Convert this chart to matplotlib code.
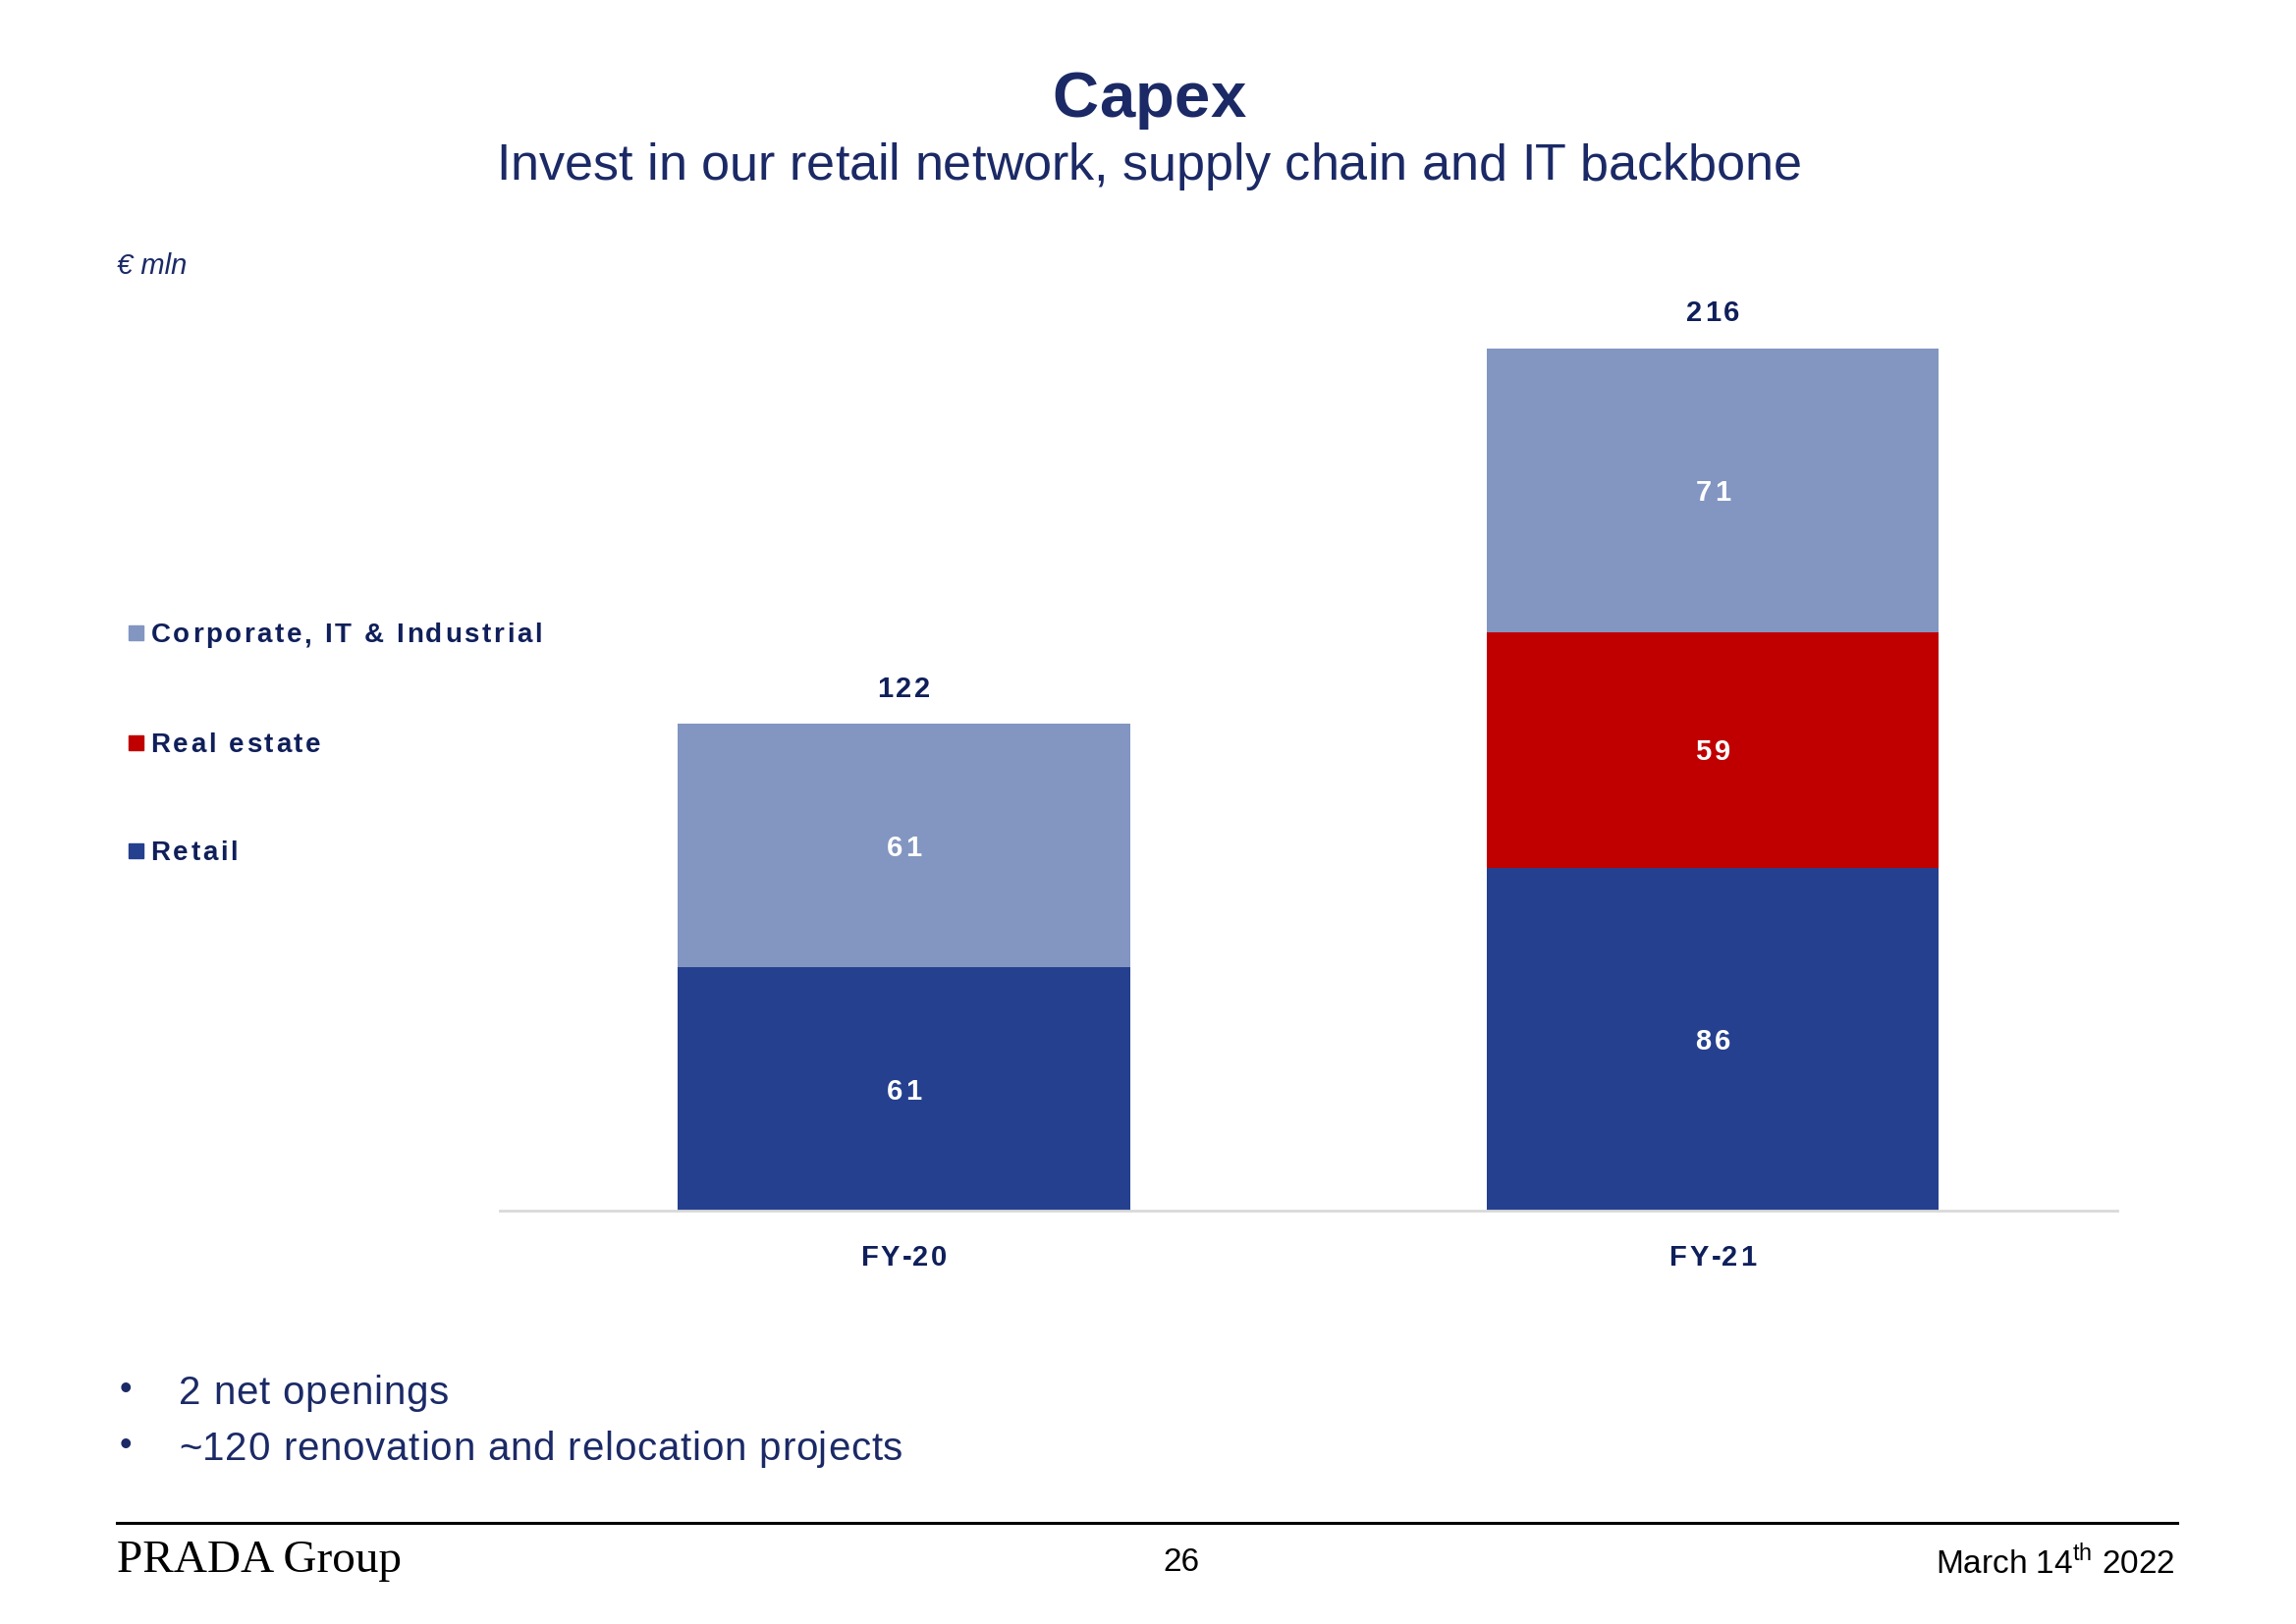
import matplotlib.pyplot as plt
import numpy as np

plt.rcParams["font.family"] = ["Liberation Sans", "DejaVu Sans"]
plt.rcParams["mathtext.fontset"] = "custom"
plt.rcParams["mathtext.rm"] = "Liberation Sans"

# data
years = ["FY-20", "FY-21"]
retail = [61, 86]
real_estate = [0, 59]
corporate = [61, 71]
totals = [122, 216]
series_names = ["Retail", "Real estate", "Corporate, IT & Industrial"]

NAVY = "#1b2a66"
DARK = "#0f1f5a"
colors = ["#25408f", "#c00000", "#8396c1"]

W, H = 2338, 1654
fig = plt.figure(figsize=(W / 100, H / 100), dpi=100)
R = fig.canvas.get_renderer()
S = W / 1568  # shrunk -> full


def text_w(s, **kw):
    t = fig.text(0, 0, s + "|", **kw)
    e = t.get_window_extent(R).width
    t.remove()
    return e


def spaced(xp, yp, s, gap, ha="left", **kw):
    # letter-spaced text, xp/yp in figure pixels (yp from bottom, baseline)
    base = text_w("", **kw)
    offs = [text_w(s[:i], **kw) - base + i * gap for i in range(len(s))]
    total = text_w(s, **kw) - base + (len(s) - 1) * gap
    if ha == "center":
        xp -= total / 2
    for ch, o in zip(s, offs):
        if ch != " ":
            fig.text((xp + o) / W, yp / H, ch, ha="left", va="baseline", **kw)


# bar chart area
ax = fig.add_axes([0.2175, 0.2543, 0.7047, 0.5902])
x = np.arange(len(years))
w = 0.559
ax.set_xlim(-0.5, 1.5)
ax.set_ylim(0, 240)

lab_kw = dict(fontsize=21, fontweight="bold")
cap = 0.716 * 21 * 100 / 72  # cap height in px
bottom = np.zeros(len(years))
for vals, c in zip([retail, real_estate, corporate], colors):
    vals = np.array(vals)
    ax.bar(x, vals, w, bottom=bottom, color=c, zorder=2)
    for xi, v, b in zip(x, vals, bottom):
        if v > 0:
            px, py = ax.transData.transform((xi, b + v / 2))
            spaced(px, py - cap / 2, str(v), 3, ha="center", color="white", **lab_kw)
    bottom = bottom + vals

for xi, t in zip(x, totals):
    px, py = ax.transData.transform((xi, t))
    spaced(px, py + 38 - cap / 2, str(t), 3, ha="center", color=DARK, **lab_kw)

ax.set_yticks([])
ax.set_xticks([])
for xi, lab in zip(x, years):
    px, py = ax.transData.transform((xi, 0))
    spaced(px, py - 45 - cap / 2, lab, 2.5, ha="center", color=DARK, **lab_kw)
for s in ["top", "right", "left"]:
    ax.spines[s].set_visible(False)
ax.spines["bottom"].set_color("#d9d9d9")
ax.spines["bottom"].set_linewidth(2)

# legend (manual, top to bottom)
leg_cap = 0.716 * 20 * 100 / 72
for name, c, yy in zip(series_names[::-1], colors[::-1], [432, 507, 581]):
    yc = H - yy * S
    fig.patches.append(plt.Rectangle((88 * S / W, (yc - 8) / H), 15 / W, 15 / H,
                                     transform=fig.transFigure, color=c))
    spaced(103 * S, yc - leg_cap / 2, name, 2.6, color=DARK, fontsize=20, fontweight="bold")

# titles
spaced(W / 2 + 1, H - 80 * S, "Capex", 0.5, ha="center", color=NAVY, fontsize=47, fontweight="bold")
spaced(W / 2 + 1, H - 123 * S, "Invest in our retail network, supply chain and IT backbone", 0,
       ha="center", color=NAVY, fontsize=37.5)
fig.text(80 * S / W, 1 - 182 / 1109, "€ mln", ha="left", va="center", color=NAVY,
         fontsize=21, style="italic")

# bullets
for txt, yy in zip(["2 net openings", "~120 renovation and relocation projects"], [949, 987]):
    fig.text(86 / 1568, 1 - yy / 1109, "•", ha="center", va="center", color=NAVY, fontsize=26)
    spaced(122 * S, H - (yy + 10) * S, txt, 0.8, color=NAVY, fontsize=29)

# footer
fig.add_artist(plt.Line2D([80 / 1568, 1487 / 1568], [1 - 1040 / 1109] * 2,
                          transform=fig.transFigure, color="black", linewidth=2.2))
fig.text(80 / 1568, 1 - 1066 / 1109, "PRADA Group", ha="left", va="center", color="black",
         fontsize=34, family=["Liberation Serif", "DejaVu Serif"])
fig.text(807 / 1568, 1 - 1067 / 1109, "26", ha="center", va="center", color="black", fontsize=24)
fig.text(1485 / 1568, 1 - 1067 / 1109, r"March 14$^{\mathrm{th}}$ 2022", ha="right",
         va="center", color="black", fontsize=24)

fig.savefig("out.png", dpi=100)
